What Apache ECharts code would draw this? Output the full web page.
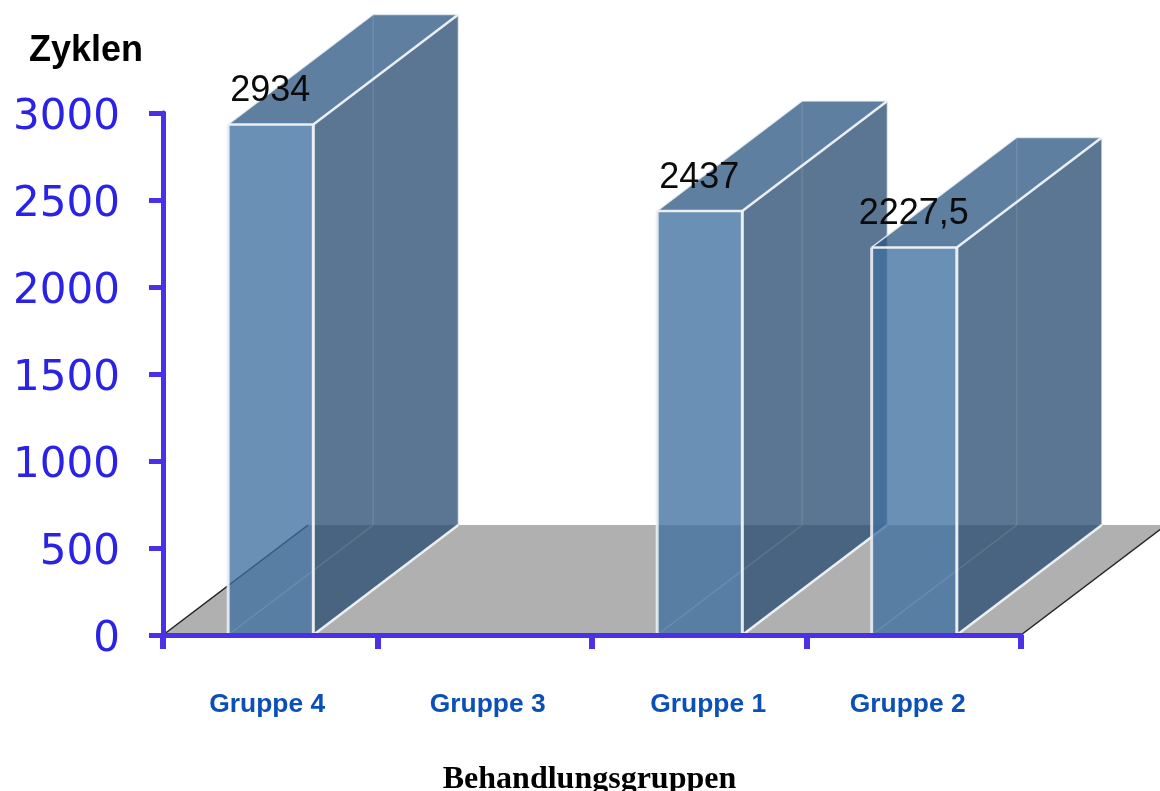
<!DOCTYPE html>
<html>
<head>
<meta charset="utf-8">
<style>html,body{margin:0;padding:0;background:#fff}#chart{width:1160px;height:791px}</style>
<script src="https://cdn.jsdelivr.net/npm/echarts@6/dist/echarts.min.js"></script>
</head>
<body>
<div id="chart"></div>
<script>
// Cycle counts per treatment group; Gruppe 3 has no reported value.
const categories = ['Gruppe 4', 'Gruppe 3', 'Gruppe 1', 'Gruppe 2'];
const cycles = [2934, null, 2437, 2227.5];
const yTicks = { min: 0, max: 3000, interval: 500 };

const AXIS_BLUE = '#4a30e6';
const EDGE = 'rgba(240,244,248,0.95)';
const FAINT = 'rgba(255,255,255,0.1)';
const BAR_BAND = 0.397;       // bar width as a share of a category
const DEPTH_BANDS = 0.676;    // horizontal receding depth, in categories
const DEPTH_VALUE = 632;      // vertical receding depth, in axis units
const LABEL_SHIFT = { 'Gruppe 4': -3, 'Gruppe 3': 3, 'Gruppe 1': 9, 'Gruppe 2': -6 };

function depth(api) {
  return [api.size([1, 0])[0] * DEPTH_BANDS, api.size([0, DEPTH_VALUE])[1]];
}
function poly(points, fill) {
  return { type: 'polygon', shape: { points }, style: { fill } };
}
function line(a, b, stroke, lineWidth) {
  return { type: 'line', shape: { x1: a[0], y1: a[1], x2: b[0], y2: b[1] }, style: { stroke, lineWidth } };
}

// The grey floor plane that recedes behind the category axis.
function renderFloor(params, api) {
  const g = params.coordSys;
  const [dx, dy] = depth(api);
  const y0 = g.y + g.height, x0 = g.x, x1 = g.x + g.width;
  return {
    type: 'group',
    children: [
      poly([[x0, y0], [x0 + dx, y0 - dy], [x1 + dx, y0 - dy], [x1, y0]], '#b0b0b0'),
      line([x0, y0], [x0 + dx, y0 - dy], '#222', 1.5),
      line([x1, y0], [x1 + dx, y0 - dy], '#222', 1.5)
    ]
  };
}

// A translucent box: side, top and front faces, then hidden and visible edges.
function renderBox(params, api) {
  const v = api.value(1);
  if (v == null || isNaN(v)) return null;
  const base = api.coord([api.value(0), 0]);
  const top = api.coord([api.value(0), v]);
  const band = api.size([1, 0])[0];
  const [dx, dy] = depth(api);
  const l = base[0] - band * BAR_BAND / 2 + 0.5;
  const r = base[0] + band * BAR_BAND / 2 + 0.5;
  const b = base[1], t = top[1];
  const text = String(v).replace('.', ',');
  return {
    type: 'group',
    children: [
      poly([[r, t], [r + dx, t - dy], [r + dx, b - dy], [r, b]], 'rgba(41,77,115,0.77)'),
      poly([[l, t], [l + dx, t - dy], [r + dx, t - dy], [r, t]], 'rgba(47,89,133,0.77)'),
      poly([[l, t], [r, t], [r, b], [l, b]], 'rgba(62,110,159,0.77)'),
      line([l + dx, t - dy], [l + dx, b - dy], FAINT, 1.5),
      line([l, b], [l + dx, b - dy], FAINT, 1.5),
      line([l + dx, t - dy], [r + dx, t - dy], 'rgba(240,244,248,0.7)', 1.5),
      line([r + dx, t - dy], [r + dx, b - dy], 'rgba(240,244,248,0.55)', 1.5),
      line([l, t], [l + dx, t - dy], 'rgba(240,244,248,0.8)', 1.5),
      line([r, t], [r + dx, t - dy], EDGE, 2.5),
      line([r, b], [r + dx, b - dy], EDGE, 2.5),
      line([l, t], [r, t], EDGE, 2.5),
      line([l, t], [l, b], 'rgba(235,238,242,0.9)', 3),
      line([r, t], [r, b], EDGE, 3),
      {
        type: 'text',
        style: {
          text, x: base[0], y: t - 33, align: 'center', verticalAlign: 'middle',
          fill: '#0b0b0b', font: '36px "Liberation Sans"'
        }
      }
    ]
  };
}

const richLabels = {};
categories.forEach((c, i) => {
  const s = LABEL_SHIFT[c];
  richLabels['c' + i] = {
    color: '#0b50b8', fontFamily: 'Liberation Sans', fontWeight: 'bold', fontSize: 26.4,
    padding: s > 0 ? [0, 0, 0, s * 2] : [0, -s * 2, 0, 0]
  };
});

const chart = echarts.init(document.getElementById('chart'), null, { renderer: 'canvas' });
chart.setOption({
  animation: false,
  backgroundColor: '#fff',
  grid: { left: 163, right: 139, top: 113, bottom: 156, containLabel: false, outerBoundsMode: 'none' },
  xAxis: {
    type: 'category',
    data: categories,
    z: 5,
    name: 'Behandlungsgruppen',
    nameLocation: 'middle',
    nameGap: 129,
    nameTextStyle: { color: '#000', fontFamily: 'Liberation Serif', fontWeight: 'bold', fontSize: 32, padding: [0, 5, 0, 0] },
    axisLine: { lineStyle: { color: AXIS_BLUE, width: 5 } },
    axisTick: { show: true, alignWithLabel: false, length: 14, lineStyle: { color: AXIS_BLUE, width: 6 } },
    axisLabel: {
      interval: 0, margin: 57,
      formatter: (value, index) => '{c' + index + '|' + value + '}',
      rich: richLabels
    }
  },
  yAxis: {
    type: 'value',
    min: yTicks.min, max: yTicks.max, interval: yTicks.interval,
    z: 5,
    name: 'Zyklen',
    nameLocation: 'end',
    nameGap: 44,
    nameTextStyle: { color: '#000', fontFamily: 'Liberation Sans', fontWeight: 'bold', fontSize: 36, align: 'center', padding: [0, 154, 0, 0] },
    splitLine: { show: false },
    axisLine: { show: true, lineStyle: { color: AXIS_BLUE, width: 5 } },
    axisTick: { show: true, length: 14, lineStyle: { color: AXIS_BLUE, width: 5 } },
    axisLabel: {
      margin: 28,
      formatter: v => '{t|' + v + '}',
      rich: { t: { color: '#2a22e6', fontFamily: 'DejaVu Sans', fontSize: 42, padding: [10, 15, 0, 0] } }
    }
  },
  series: [
    { type: 'custom', z: 1, silent: true, clip: false, renderItem: renderFloor, data: [0] },
    {
      type: 'custom', z: 2, silent: true, clip: false, renderItem: renderBox,
      encode: { x: 0, y: 1 },
      data: cycles.map((v, i) => [i, v])
    }
  ]
});
</script>
</body>
</html>
